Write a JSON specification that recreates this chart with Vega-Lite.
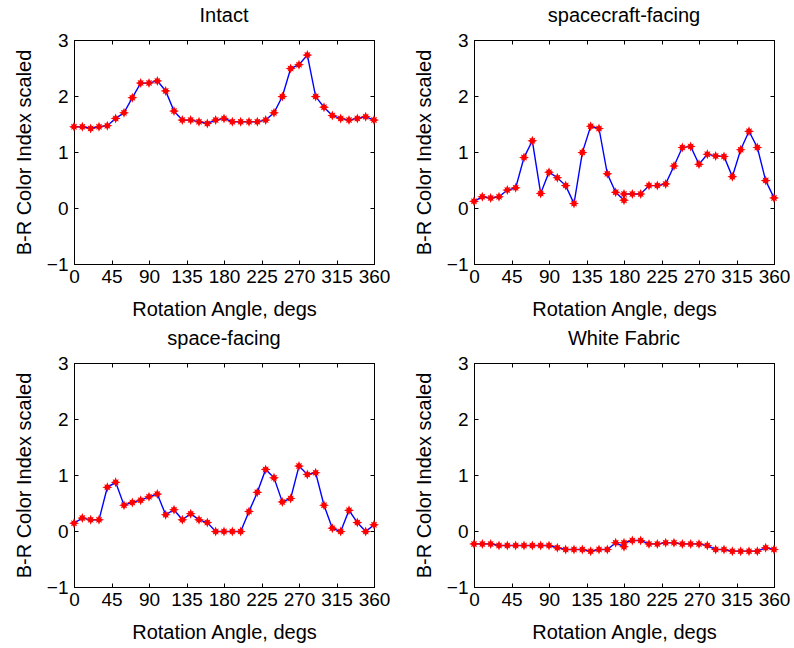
{
  "$schema": "https://vega.github.io/schema/vega-lite/v6.json",
  "padding": {"left": 13, "top": 5, "right": 5, "bottom": 5},
  "background": "white",
  "datasets": {
    "d": [
      {"p":"Intact","a":0,"v":1.45,"i":0},{"p":"Intact","a":10,"v":1.45,"i":1},{"p":"Intact","a":20,"v":1.42,"i":2},{"p":"Intact","a":30,"v":1.45,"i":3},{"p":"Intact","a":40,"v":1.47,"i":4},{"p":"Intact","a":50,"v":1.60,"i":5},{"p":"Intact","a":60,"v":1.70,"i":6},{"p":"Intact","a":70,"v":1.97,"i":7},{"p":"Intact","a":80,"v":2.23,"i":8},{"p":"Intact","a":90,"v":2.23,"i":9},{"p":"Intact","a":100,"v":2.27,"i":10},{"p":"Intact","a":110,"v":2.09,"i":11},{"p":"Intact","a":120,"v":1.73,"i":12},{"p":"Intact","a":130,"v":1.57,"i":13},{"p":"Intact","a":140,"v":1.57,"i":14},{"p":"Intact","a":150,"v":1.54,"i":15},{"p":"Intact","a":160,"v":1.51,"i":16},{"p":"Intact","a":170,"v":1.57,"i":17},{"p":"Intact","a":180,"v":1.60,"i":18},{"p":"Intact","a":190,"v":1.54,"i":19},{"p":"Intact","a":200,"v":1.54,"i":20},{"p":"Intact","a":210,"v":1.54,"i":21},{"p":"Intact","a":220,"v":1.54,"i":22},{"p":"Intact","a":230,"v":1.57,"i":23},{"p":"Intact","a":240,"v":1.70,"i":24},{"p":"Intact","a":250,"v":1.99,"i":25},{"p":"Intact","a":260,"v":2.49,"i":26},{"p":"Intact","a":270,"v":2.56,"i":27},{"p":"Intact","a":280,"v":2.73,"i":28},{"p":"Intact","a":290,"v":1.99,"i":29},{"p":"Intact","a":300,"v":1.80,"i":30},{"p":"Intact","a":310,"v":1.65,"i":31},{"p":"Intact","a":320,"v":1.60,"i":32},{"p":"Intact","a":330,"v":1.57,"i":33},{"p":"Intact","a":340,"v":1.60,"i":34},{"p":"Intact","a":350,"v":1.63,"i":35},{"p":"Intact","a":360,"v":1.57,"i":36},

      {"p":"spacecraft-facing","a":0,"v":0.12,"i":0},{"p":"spacecraft-facing","a":10,"v":0.20,"i":1},{"p":"spacecraft-facing","a":20,"v":0.18,"i":2},{"p":"spacecraft-facing","a":30,"v":0.20,"i":3},{"p":"spacecraft-facing","a":40,"v":0.32,"i":4},{"p":"spacecraft-facing","a":50,"v":0.36,"i":5},{"p":"spacecraft-facing","a":60,"v":0.90,"i":6},{"p":"spacecraft-facing","a":70,"v":1.20,"i":7},{"p":"spacecraft-facing","a":80,"v":0.26,"i":8},{"p":"spacecraft-facing","a":90,"v":0.64,"i":9},{"p":"spacecraft-facing","a":100,"v":0.54,"i":10},{"p":"spacecraft-facing","a":110,"v":0.40,"i":11},{"p":"spacecraft-facing","a":120,"v":0.08,"i":12},{"p":"spacecraft-facing","a":130,"v":0.99,"i":13},{"p":"spacecraft-facing","a":140,"v":1.46,"i":14},{"p":"spacecraft-facing","a":150,"v":1.42,"i":15},{"p":"spacecraft-facing","a":160,"v":0.61,"i":16},{"p":"spacecraft-facing","a":170,"v":0.28,"i":17},{"p":"spacecraft-facing","a":180,"v":0.14,"i":18},{"p":"spacecraft-facing","a":180,"v":0.25,"i":19},{"p":"spacecraft-facing","a":190,"v":0.25,"i":20},{"p":"spacecraft-facing","a":200,"v":0.25,"i":21},{"p":"spacecraft-facing","a":210,"v":0.40,"i":22},{"p":"spacecraft-facing","a":220,"v":0.40,"i":23},{"p":"spacecraft-facing","a":230,"v":0.43,"i":24},{"p":"spacecraft-facing","a":240,"v":0.75,"i":25},{"p":"spacecraft-facing","a":250,"v":1.08,"i":26},{"p":"spacecraft-facing","a":260,"v":1.10,"i":27},{"p":"spacecraft-facing","a":270,"v":0.78,"i":28},{"p":"spacecraft-facing","a":280,"v":0.96,"i":29},{"p":"spacecraft-facing","a":290,"v":0.93,"i":30},{"p":"spacecraft-facing","a":300,"v":0.92,"i":31},{"p":"spacecraft-facing","a":310,"v":0.56,"i":32},{"p":"spacecraft-facing","a":320,"v":1.04,"i":33},{"p":"spacecraft-facing","a":330,"v":1.37,"i":34},{"p":"spacecraft-facing","a":340,"v":1.08,"i":35},{"p":"spacecraft-facing","a":350,"v":0.49,"i":36},{"p":"spacecraft-facing","a":360,"v":0.18,"i":37},

      {"p":"space-facing","a":0,"v":0.14,"i":0},{"p":"space-facing","a":10,"v":0.23,"i":1},{"p":"space-facing","a":20,"v":0.20,"i":2},{"p":"space-facing","a":30,"v":0.20,"i":3},{"p":"space-facing","a":40,"v":0.78,"i":4},{"p":"space-facing","a":50,"v":0.87,"i":5},{"p":"space-facing","a":60,"v":0.46,"i":6},{"p":"space-facing","a":70,"v":0.51,"i":7},{"p":"space-facing","a":80,"v":0.55,"i":8},{"p":"space-facing","a":90,"v":0.61,"i":9},{"p":"space-facing","a":100,"v":0.66,"i":10},{"p":"space-facing","a":110,"v":0.29,"i":11},{"p":"space-facing","a":120,"v":0.38,"i":12},{"p":"space-facing","a":130,"v":0.20,"i":13},{"p":"space-facing","a":140,"v":0.31,"i":14},{"p":"space-facing","a":150,"v":0.20,"i":15},{"p":"space-facing","a":160,"v":0.15,"i":16},{"p":"space-facing","a":170,"v":-0.01,"i":17},{"p":"space-facing","a":180,"v":-0.01,"i":18},{"p":"space-facing","a":190,"v":-0.01,"i":19},{"p":"space-facing","a":200,"v":-0.01,"i":20},{"p":"space-facing","a":210,"v":0.35,"i":21},{"p":"space-facing","a":220,"v":0.69,"i":22},{"p":"space-facing","a":230,"v":1.10,"i":23},{"p":"space-facing","a":240,"v":0.95,"i":24},{"p":"space-facing","a":250,"v":0.52,"i":25},{"p":"space-facing","a":260,"v":0.58,"i":26},{"p":"space-facing","a":270,"v":1.16,"i":27},{"p":"space-facing","a":280,"v":1.01,"i":28},{"p":"space-facing","a":290,"v":1.04,"i":29},{"p":"space-facing","a":300,"v":0.46,"i":30},{"p":"space-facing","a":310,"v":0.05,"i":31},{"p":"space-facing","a":320,"v":-0.01,"i":32},{"p":"space-facing","a":330,"v":0.37,"i":33},{"p":"space-facing","a":340,"v":0.15,"i":34},{"p":"space-facing","a":350,"v":-0.01,"i":35},{"p":"space-facing","a":360,"v":0.11,"i":36},

      {"p":"White Fabric","a":0,"v":-0.23,"i":0},{"p":"White Fabric","a":10,"v":-0.23,"i":1},{"p":"White Fabric","a":20,"v":-0.23,"i":2},{"p":"White Fabric","a":30,"v":-0.26,"i":3},{"p":"White Fabric","a":40,"v":-0.26,"i":4},{"p":"White Fabric","a":50,"v":-0.26,"i":5},{"p":"White Fabric","a":60,"v":-0.26,"i":6},{"p":"White Fabric","a":70,"v":-0.26,"i":7},{"p":"White Fabric","a":80,"v":-0.26,"i":8},{"p":"White Fabric","a":90,"v":-0.26,"i":9},{"p":"White Fabric","a":100,"v":-0.30,"i":10},{"p":"White Fabric","a":110,"v":-0.33,"i":11},{"p":"White Fabric","a":120,"v":-0.33,"i":12},{"p":"White Fabric","a":130,"v":-0.33,"i":13},{"p":"White Fabric","a":140,"v":-0.36,"i":14},{"p":"White Fabric","a":150,"v":-0.33,"i":15},{"p":"White Fabric","a":160,"v":-0.33,"i":16},{"p":"White Fabric","a":170,"v":-0.21,"i":17},{"p":"White Fabric","a":180,"v":-0.28,"i":18},{"p":"White Fabric","a":180,"v":-0.21,"i":19},{"p":"White Fabric","a":190,"v":-0.17,"i":20},{"p":"White Fabric","a":200,"v":-0.17,"i":21},{"p":"White Fabric","a":210,"v":-0.23,"i":22},{"p":"White Fabric","a":220,"v":-0.23,"i":23},{"p":"White Fabric","a":230,"v":-0.21,"i":24},{"p":"White Fabric","a":240,"v":-0.21,"i":25},{"p":"White Fabric","a":250,"v":-0.23,"i":26},{"p":"White Fabric","a":260,"v":-0.23,"i":27},{"p":"White Fabric","a":270,"v":-0.23,"i":28},{"p":"White Fabric","a":280,"v":-0.26,"i":29},{"p":"White Fabric","a":290,"v":-0.33,"i":30},{"p":"White Fabric","a":300,"v":-0.33,"i":31},{"p":"White Fabric","a":310,"v":-0.36,"i":32},{"p":"White Fabric","a":320,"v":-0.36,"i":33},{"p":"White Fabric","a":330,"v":-0.36,"i":34},{"p":"White Fabric","a":340,"v":-0.36,"i":35},{"p":"White Fabric","a":350,"v":-0.30,"i":36},{"p":"White Fabric","a":360,"v":-0.33,"i":37}
    ]
  },
  "columns": 2,
  "spacing": {"row": 99, "column": 100},
  "bounds": "flush",
  "concat": [
    {
      "title": "Intact",
      "width": 300, "height": 224,
      "data": {"name": "d"},
      "transform": [{"filter": "datum.p == 'Intact'"}],
      "layer": [
        {"mark": {"type": "line", "color": "#0000ff", "strokeWidth": 1.4},
         "encoding": {
           "x": {"field": "a", "type": "quantitative", "scale": {"domain": [0, 360], "nice": false, "zero": false}, "axis": {"orient": "bottom", "values": [0,45,90,135,180,225,270,315,360], "title": "Rotation Angle, degs", "labelPadding": 7, "titlePadding": 13}},
           "y": {"field": "v", "type": "quantitative", "scale": {"domain": [-1, 3], "nice": false}, "axis": {"orient": "left", "values": [-1,0,1,2,3], "title": "B-R Color Index scaled", "labelPadding": 10, "titlePadding": 12}},
           "order": {"field": "i", "type": "quantitative"}}},
        {"mark": {"type": "point", "shape": "M0,-1L0.22,-0.45L0.6,-0.6L0.45,-0.22L1,0L0.45,0.22L0.6,0.6L0.22,0.45L0,1L-0.22,0.45L-0.6,0.6L-0.45,0.22L-1,0L-0.45,-0.22L-0.6,-0.6L-0.22,-0.45Z", "filled": true, "color": "#ff0000", "size": 100, "opacity": 1},
         "encoding": {
           "x": {"field": "a", "type": "quantitative", "scale": {"domain": [0, 360], "nice": false, "zero": false}, "axis": {"orient": "top", "values": [0,45,90,135,180,225,270,315,360], "labels": false, "title": null}},
           "y": {"field": "v", "type": "quantitative", "scale": {"domain": [-1, 3], "nice": false}, "axis": {"orient": "right", "values": [-1,0,1,2,3], "labels": false, "title": null}}}}
      ],
      "resolve": {"axis": {"x": "independent", "y": "independent"}}
    },
    {
      "title": "spacecraft-facing",
      "width": 300, "height": 224,
      "data": {"name": "d"},
      "transform": [{"filter": "datum.p == 'spacecraft-facing'"}],
      "layer": [
        {"mark": {"type": "line", "color": "#0000ff", "strokeWidth": 1.4},
         "encoding": {
           "x": {"field": "a", "type": "quantitative", "scale": {"domain": [0, 360], "nice": false, "zero": false}, "axis": {"orient": "bottom", "values": [0,45,90,135,180,225,270,315,360], "title": "Rotation Angle, degs", "labelPadding": 7, "titlePadding": 13}},
           "y": {"field": "v", "type": "quantitative", "scale": {"domain": [-1, 3], "nice": false}, "axis": {"orient": "left", "values": [-1,0,1,2,3], "title": "B-R Color Index scaled", "labelPadding": 10, "titlePadding": 12}},
           "order": {"field": "i", "type": "quantitative"}}},
        {"mark": {"type": "point", "shape": "M0,-1L0.22,-0.45L0.6,-0.6L0.45,-0.22L1,0L0.45,0.22L0.6,0.6L0.22,0.45L0,1L-0.22,0.45L-0.6,0.6L-0.45,0.22L-1,0L-0.45,-0.22L-0.6,-0.6L-0.22,-0.45Z", "filled": true, "color": "#ff0000", "size": 100, "opacity": 1},
         "encoding": {
           "x": {"field": "a", "type": "quantitative", "scale": {"domain": [0, 360], "nice": false, "zero": false}, "axis": {"orient": "top", "values": [0,45,90,135,180,225,270,315,360], "labels": false, "title": null}},
           "y": {"field": "v", "type": "quantitative", "scale": {"domain": [-1, 3], "nice": false}, "axis": {"orient": "right", "values": [-1,0,1,2,3], "labels": false, "title": null}}}}
      ],
      "resolve": {"axis": {"x": "independent", "y": "independent"}}
    },
    {
      "title": "space-facing",
      "width": 300, "height": 224,
      "data": {"name": "d"},
      "transform": [{"filter": "datum.p == 'space-facing'"}],
      "layer": [
        {"mark": {"type": "line", "color": "#0000ff", "strokeWidth": 1.4},
         "encoding": {
           "x": {"field": "a", "type": "quantitative", "scale": {"domain": [0, 360], "nice": false, "zero": false}, "axis": {"orient": "bottom", "values": [0,45,90,135,180,225,270,315,360], "title": "Rotation Angle, degs", "labelPadding": 7, "titlePadding": 13}},
           "y": {"field": "v", "type": "quantitative", "scale": {"domain": [-1, 3], "nice": false}, "axis": {"orient": "left", "values": [-1,0,1,2,3], "title": "B-R Color Index scaled", "labelPadding": 10, "titlePadding": 12}},
           "order": {"field": "i", "type": "quantitative"}}},
        {"mark": {"type": "point", "shape": "M0,-1L0.22,-0.45L0.6,-0.6L0.45,-0.22L1,0L0.45,0.22L0.6,0.6L0.22,0.45L0,1L-0.22,0.45L-0.6,0.6L-0.45,0.22L-1,0L-0.45,-0.22L-0.6,-0.6L-0.22,-0.45Z", "filled": true, "color": "#ff0000", "size": 100, "opacity": 1},
         "encoding": {
           "x": {"field": "a", "type": "quantitative", "scale": {"domain": [0, 360], "nice": false, "zero": false}, "axis": {"orient": "top", "values": [0,45,90,135,180,225,270,315,360], "labels": false, "title": null}},
           "y": {"field": "v", "type": "quantitative", "scale": {"domain": [-1, 3], "nice": false}, "axis": {"orient": "right", "values": [-1,0,1,2,3], "labels": false, "title": null}}}}
      ],
      "resolve": {"axis": {"x": "independent", "y": "independent"}}
    },
    {
      "title": "White Fabric",
      "width": 300, "height": 224,
      "data": {"name": "d"},
      "transform": [{"filter": "datum.p == 'White Fabric'"}],
      "layer": [
        {"mark": {"type": "line", "color": "#0000ff", "strokeWidth": 1.4},
         "encoding": {
           "x": {"field": "a", "type": "quantitative", "scale": {"domain": [0, 360], "nice": false, "zero": false}, "axis": {"orient": "bottom", "values": [0,45,90,135,180,225,270,315,360], "title": "Rotation Angle, degs", "labelPadding": 7, "titlePadding": 13}},
           "y": {"field": "v", "type": "quantitative", "scale": {"domain": [-1, 3], "nice": false}, "axis": {"orient": "left", "values": [-1,0,1,2,3], "title": "B-R Color Index scaled", "labelPadding": 10, "titlePadding": 12}},
           "order": {"field": "i", "type": "quantitative"}}},
        {"mark": {"type": "point", "shape": "M0,-1L0.22,-0.45L0.6,-0.6L0.45,-0.22L1,0L0.45,0.22L0.6,0.6L0.22,0.45L0,1L-0.22,0.45L-0.6,0.6L-0.45,0.22L-1,0L-0.45,-0.22L-0.6,-0.6L-0.22,-0.45Z", "filled": true, "color": "#ff0000", "size": 100, "opacity": 1},
         "encoding": {
           "x": {"field": "a", "type": "quantitative", "scale": {"domain": [0, 360], "nice": false, "zero": false}, "axis": {"orient": "top", "values": [0,45,90,135,180,225,270,315,360], "labels": false, "title": null}},
           "y": {"field": "v", "type": "quantitative", "scale": {"domain": [-1, 3], "nice": false}, "axis": {"orient": "right", "values": [-1,0,1,2,3], "labels": false, "title": null}}}}
      ],
      "resolve": {"axis": {"x": "independent", "y": "independent"}}
    }
  ],
  "config": {
    "font": "Liberation Sans",
    "view": {"stroke": "black", "strokeWidth": 1},
    "axis": {
      "grid": false,
      "domainColor": "black",
      "tickColor": "black",
      "labelColor": "black",
      "titleColor": "black",
      "labelFont": "Liberation Sans",
      "titleFont": "Liberation Sans",
      "labelFontSize": 19,
      "titleFontSize": 20,
      "titleFontWeight": "normal",
      "tickSize": -4,
      "labelOverlap": false,
      "labelFlush": false
    },
    "title": {"font": "Liberation Sans", "fontSize": 20, "fontWeight": "normal", "color": "black", "baseline": "alphabetic", "offset": 5}
  }
}
